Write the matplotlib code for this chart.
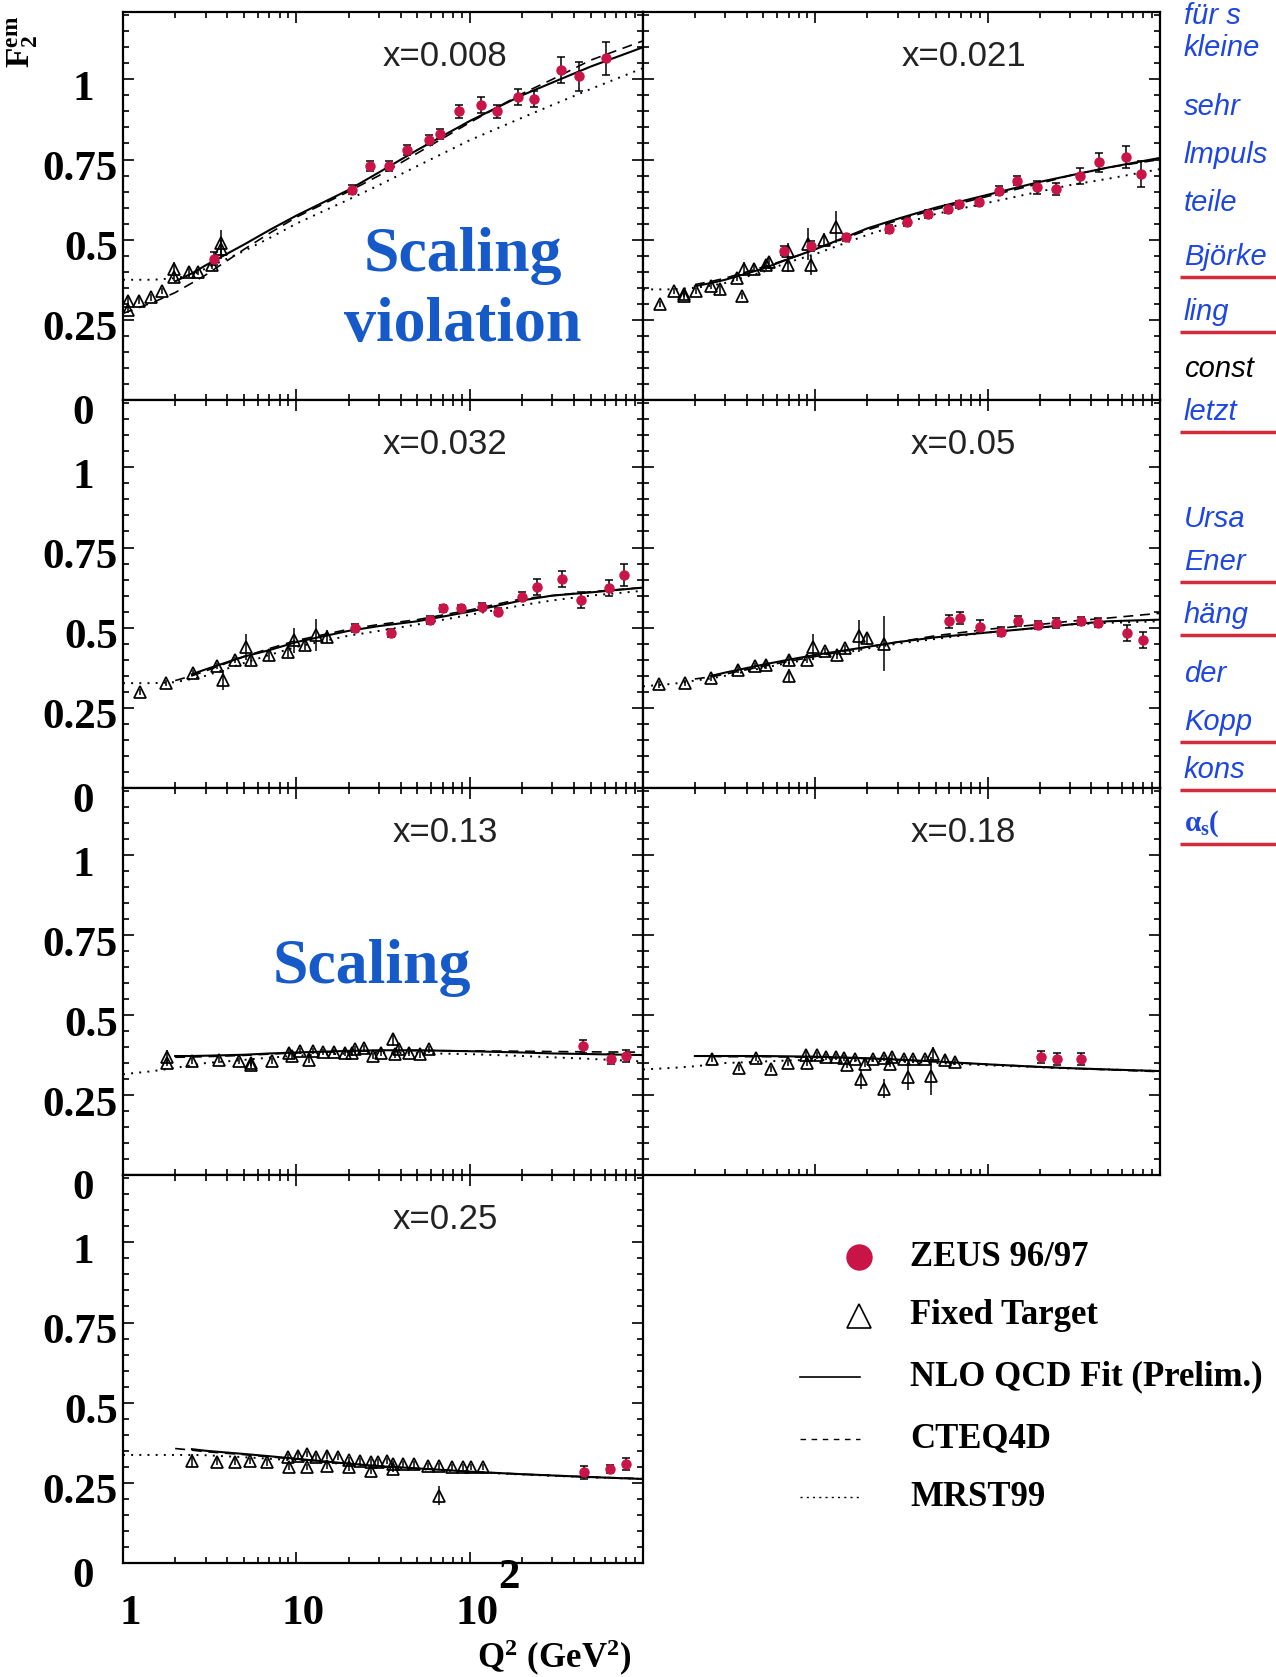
import numpy as np
import matplotlib
matplotlib.use("Agg")
import matplotlib.pyplot as plt
from matplotlib.lines import Line2D
from matplotlib.ticker import FixedLocator, MultipleLocator, NullFormatter

plt.rcParams["mathtext.fontset"] = "custom"
plt.rcParams["mathtext.rm"] = "Liberation Serif:bold"
plt.rcParams["mathtext.bf"] = "Liberation Serif:bold"
plt.rcParams["mathtext.it"] = "Liberation Serif:bold"

W, H = 1276, 1677
nan = np.nan
RED = "#c81446"
BLUE = "#155ac8"
INK = "#1e46e0"
SERIF = "Liberation Serif"

# ---- data ----------------------------------------------------------------
# Q^2 grid on which the three fit curves were read
CURVE_Q2 = [1, 1.5, 2, 2.5, 3, 5, 7, 10, 20, 30, 50, 100, 200, 300, 500, 1000]

# x = 0.008
ZEUS_Q2_0008 = [3.35, 20.9, 26.5, 34.4, 43.6, 58, 67, 87, 116, 143, 190, 236, 338, 430, 610]
ZEUS_F2_0008 = [0.44, 0.656, 0.73, 0.73, 0.78, 0.81, 0.83, 0.90, 0.92, 0.90, 0.945, 0.94, 1.03, 1.01, 1.065]
ZEUS_ER_0008 = [0.02, 0.015, 0.015, 0.015, 0.015, 0.015, 0.015, 0.02, 0.025, 0.02, 0.025, 0.025, 0.04, 0.045, 0.05]
FT_Q2_0008 = [1.07, 1.07, 1.23, 1.46, 1.68, 1.98, 1.98, 2.4, 2.7, 3.27, 3.7, 3.7]
FT_F2_0008 = [0.28, 0.31, 0.31, 0.32, 0.34, 0.385, 0.41, 0.40, 0.40, 0.42, 0.47, 0.49]
FT_ER_0008 = [0.01, 0.01, 0.01, 0.01, 0.01, 0.015, 0.02, 0.015, 0.01, 0.01, 0.03, 0.04]
NLO_0008 = [nan, nan, 0.37, 0.395, 0.42, 0.485, 0.53, 0.575, 0.655, 0.71, 0.78, 0.87, 0.95, 0.99, 1.04, 1.10]
CTEQ_0008 = [0.27, 0.305, 0.335, 0.365, 0.39, 0.47, 0.52, 0.57, 0.65, 0.70, 0.77, 0.865, 0.955, 1.0, 1.06, 1.12]
MRST_0008 = [0.375, 0.375, 0.38, 0.39, 0.41, 0.465, 0.505, 0.55, 0.625, 0.67, 0.73, 0.81, 0.88, 0.92, 0.97, 1.035]

# x = 0.021
ZEUS_Q2_0021 = [6.6, 9.5, 15.1, 26.7, 34.2, 45, 59, 68, 89, 117, 147, 194, 249, 343, 441, 636, 780]
ZEUS_F2_0021 = [0.466, 0.48, 0.507, 0.533, 0.554, 0.58, 0.596, 0.61, 0.616, 0.653, 0.684, 0.663, 0.658, 0.70, 0.741, 0.757, 0.705]
ZEUS_ER_0021 = [0.015, 0.015, 0.012, 0.012, 0.012, 0.012, 0.012, 0.012, 0.012, 0.015, 0.015, 0.02, 0.02, 0.025, 0.03, 0.035, 0.04]
FT_Q2_0021 = [1.26, 1.51, 1.73, 1.73, 2.03, 2.49, 2.79, 3.5, 3.75, 3.84, 4.4, 5.2, 5.4, 6.9, 6.9, 9.1, 9.5, 11.2, 13.1]
FT_F2_0021 = [0.30, 0.34, 0.33, 0.325, 0.34, 0.357, 0.346, 0.38, 0.325, 0.41, 0.41, 0.42, 0.43, 0.466, 0.42, 0.486, 0.42, 0.50, 0.54]
FT_ER_0021 = [0.01, 0.01, 0.01, 0.01, 0.01, 0.01, 0.015, 0.01, 0.01, 0.02, 0.01, 0.015, 0.02, 0.025, 0.02, 0.05, 0.03, 0.02, 0.05]
NLO_0021 = [nan, nan, 0.355, 0.365, 0.375, 0.41, 0.44, 0.47, 0.535, 0.565, 0.60, 0.64, 0.68, 0.70, 0.725, 0.755]
CTEQ_0021 = [nan, nan, 0.36, 0.37, 0.38, 0.415, 0.44, 0.47, 0.53, 0.56, 0.595, 0.635, 0.675, 0.70, 0.725, 0.75]
MRST_0021 = [0.345, 0.345, 0.35, 0.357, 0.365, 0.40, 0.43, 0.455, 0.515, 0.545, 0.58, 0.615, 0.65, 0.67, 0.69, 0.72]

# x = 0.032
ZEUS_Q2_0032 = [21.9, 35.2, 59, 70, 89, 118, 146, 200, 245, 341, 440, 640, 775]
ZEUS_F2_0032 = [0.50, 0.483, 0.524, 0.56, 0.56, 0.566, 0.55, 0.597, 0.628, 0.651, 0.587, 0.623, 0.665]
ZEUS_ER_0032 = [0.012, 0.012, 0.012, 0.012, 0.012, 0.012, 0.012, 0.015, 0.025, 0.025, 0.025, 0.025, 0.035]
FT_Q2_0032 = [1.26, 1.76, 2.52, 3.5, 3.77, 4.45, 5.13, 5.5, 7.0, 8.9, 9.7, 11.2, 13, 15]
FT_F2_0032 = [0.30, 0.327, 0.358, 0.38, 0.337, 0.40, 0.44, 0.40, 0.415, 0.425, 0.46, 0.446, 0.478, 0.472]
FT_ER_0032 = [0.01, 0.01, 0.01, 0.01, 0.03, 0.01, 0.04, 0.015, 0.02, 0.015, 0.04, 0.015, 0.05, 0.02]
NLO_0032 = [nan, nan, nan, 0.355, 0.37, 0.41, 0.43, 0.455, 0.49, 0.505, 0.52, 0.55, 0.585, 0.60, 0.61, 0.625]
CTEQ_0032 = [nan, nan, 0.335, 0.35, 0.365, 0.41, 0.435, 0.46, 0.495, 0.51, 0.525, 0.555, 0.59, 0.60, 0.612, 0.625]
MRST_0032 = [0.327, 0.327, 0.33, 0.34, 0.35, 0.39, 0.415, 0.44, 0.475, 0.49, 0.51, 0.54, 0.57, 0.585, 0.60, 0.615]

# x = 0.05
ZEUS_Q2_005 = [60, 69, 90, 119, 150, 197, 249, 350, 437, 644, 794]
ZEUS_F2_005 = [0.52, 0.53, 0.503, 0.488, 0.52, 0.509, 0.514, 0.521, 0.516, 0.483, 0.462]
ZEUS_ER_005 = [0.02, 0.02, 0.02, 0.015, 0.015, 0.012, 0.015, 0.012, 0.015, 0.025, 0.025]
FT_Q2_005 = [1.24, 1.75, 2.47, 3.55, 4.46, 5.2, 7.0, 7.0, 9.0, 9.7, 11.4, 13.3, 14.9, 18, 20, 24.9]
FT_F2_005 = [0.323, 0.328, 0.343, 0.369, 0.38, 0.385, 0.40, 0.35, 0.40, 0.44, 0.426, 0.416, 0.436, 0.475, 0.467, 0.45]
FT_ER_005 = [0.01, 0.01, 0.01, 0.01, 0.01, 0.015, 0.015, 0.02, 0.01, 0.04, 0.01, 0.015, 0.01, 0.05, 0.02, 0.085]
NLO_005 = [nan, nan, nan, 0.35, 0.36, 0.385, 0.40, 0.415, 0.44, 0.455, 0.47, 0.485, 0.50, 0.51, 0.52, 0.525]
CTEQ_005 = [nan, nan, 0.34, 0.347, 0.355, 0.38, 0.395, 0.41, 0.44, 0.455, 0.475, 0.495, 0.51, 0.52, 0.53, 0.545]
MRST_005 = [0.317, 0.325, 0.335, 0.342, 0.35, 0.375, 0.39, 0.405, 0.435, 0.45, 0.465, 0.485, 0.50, 0.51, 0.515, 0.52]

# x = 0.13
ZEUS_Q2_013 = [450, 655, 800]
ZEUS_F2_013 = [0.403, 0.362, 0.372]
ZEUS_ER_013 = [0.02, 0.015, 0.02]
FT_Q2_013 = [1.8, 1.8, 2.5, 3.6, 4.66, 5.5, 5.5, 7.2, 9.1, 9.5, 10.5, 11.8, 12.4, 14.3, 16.4, 19,
             20.9, 21.9, 24.6, 27.8, 30.6, 36, 37, 38.9, 44.8, 51.5, 58]
FT_F2_013 = [0.37, 0.35, 0.357, 0.36, 0.357, 0.35, 0.345, 0.357, 0.383, 0.372, 0.388, 0.36, 0.388, 0.385, 0.385, 0.383,
             0.383, 0.393, 0.398, 0.372, 0.383, 0.424, 0.377, 0.393, 0.383, 0.377, 0.393]
FT_ER_013 = [0.02, 0.01, 0.01, 0.01, 0.01, 0.01, 0.01, 0.01, 0.01, 0.01, 0.01, 0.01, 0.01, 0.01, 0.01, 0.01,
             0.01, 0.01, 0.01, 0.01, 0.01, 0.02, 0.01, 0.01, 0.01, 0.01, 0.01]
NLO_013 = [nan, nan, 0.372, 0.372, 0.373, 0.376, 0.38, 0.383, 0.388, 0.39, 0.39, 0.387, 0.383, 0.38, 0.378, 0.375]
CTEQ_013 = [nan, nan, 0.368, 0.369, 0.37, 0.374, 0.378, 0.382, 0.386, 0.388, 0.389, 0.388, 0.387, 0.386, 0.385, 0.384]
MRST_013 = [0.315, 0.325, 0.335, 0.343, 0.35, 0.36, 0.367, 0.373, 0.38, 0.382, 0.381, 0.378, 0.372, 0.368, 0.363, 0.355]

# x = 0.18
ZEUS_Q2_018 = [203, 254, 350]
ZEUS_F2_018 = [0.369, 0.363, 0.363]
ZEUS_ER_018 = [0.02, 0.02, 0.02]
FT_Q2_018 = [2.5, 3.6, 4.5, 5.5, 6.9, 8.8, 8.9, 10.2, 11.5, 13.1, 14.7, 15.3, 16.9, 18.5, 19.4, 21.7, 24.9, 24.9,
             27.3, 28, 32.7, 34.3, 36.7, 43.1, 47.2, 48.3, 56.6, 65]
FT_F2_018 = [0.363, 0.334, 0.366, 0.332, 0.35, 0.374, 0.35, 0.374, 0.369, 0.369, 0.366, 0.343, 0.363, 0.30, 0.348,
             0.363, 0.27, 0.366, 0.348, 0.369, 0.363, 0.306, 0.363, 0.363, 0.31, 0.379, 0.361, 0.353]
FT_ER_018 = [0.01, 0.01, 0.01, 0.01, 0.01, 0.015, 0.01, 0.01, 0.01, 0.01, 0.01, 0.01, 0.01, 0.03, 0.01, 0.01, 0.03,
             0.01, 0.01, 0.01, 0.01, 0.04, 0.01, 0.01, 0.06, 0.02, 0.01, 0.01]
NLO_018 = [nan, nan, 0.372, 0.372, 0.372, 0.372, 0.371, 0.37, 0.365, 0.361, 0.355, 0.346, 0.338, 0.334, 0.33, 0.325]
CTEQ_018 = [nan, nan, 0.372, 0.371, 0.37, 0.37, 0.369, 0.368, 0.364, 0.36, 0.354, 0.346, 0.338, 0.334, 0.329, 0.323]
MRST_018 = [0.33, 0.335, 0.34, 0.345, 0.35, 0.355, 0.358, 0.36, 0.358, 0.355, 0.35, 0.343, 0.337, 0.333, 0.33, 0.325]

# x = 0.25
ZEUS_Q2_025 = [459, 645, 800]
ZEUS_F2_025 = [0.283, 0.293, 0.309]
ZEUS_ER_025 = [0.02, 0.012, 0.02]
FT_Q2_025 = [2.5, 3.5, 4.45, 5.4, 6.8, 8.9, 9.1, 10.2, 11.5, 11.5, 13, 15.1, 15.1, 17.5, 20.1, 20.1, 23.2, 26.8,
             26.8, 29.5, 33.4, 36, 36, 41.5, 47.6, 57.4, 66.5, 66.5, 79, 91, 102, 120]
FT_F2_025 = [0.319, 0.316, 0.316, 0.319, 0.314, 0.33, 0.30, 0.335, 0.34, 0.30, 0.33, 0.335, 0.303, 0.33, 0.322,
             0.298, 0.319, 0.314, 0.288, 0.314, 0.319, 0.309, 0.293, 0.309, 0.309, 0.303, 0.21, 0.303, 0.30, 0.30,
             0.30, 0.30]
FT_ER_025 = [0.02] + [0.01] * 25 + [0.03] + [0.01] * 5
NLO_025 = [nan, nan, nan, 0.355, 0.35, 0.34, 0.333, 0.325, 0.31, 0.302, 0.295, 0.285, 0.277, 0.273, 0.268, 0.262]
CTEQ_025 = [nan, nan, 0.357, 0.352, 0.347, 0.338, 0.331, 0.324, 0.31, 0.302, 0.295, 0.285, 0.277, 0.273, 0.268, 0.263]
MRST_025 = [0.337, 0.337, 0.337, 0.337, 0.336, 0.33, 0.325, 0.32, 0.308, 0.3, 0.293, 0.284, 0.276, 0.272, 0.267, 0.262]

Y_TICKS = [0, 0.25, 0.5, 0.75, 1.0]
Y_LABELS = ["0", "0.25", "0.5", "0.75", "1"]
X_TICKS = [1, 10, 100]
X_LABELS = ["1", "10", "10"]

LEGEND_LABELS = ["ZEUS 96/97", "Fixed Target", "NLO QCD Fit (Prelim.)", "CTEQ4D", "MRST99"]

NOTES = ["für s", "kleine", "sehr", "lmpuls", "teile", "Björke", "ling", "const", "letzt",
         "Ursa", "Ener", "häng", "der", "Kopp", "kons", r"$\alpha_s($"]
NOTES_Y = [16, 48, 107, 155, 203, 257, 312, 369, 412, 519, 562, 615, 674, 722, 770, 824]
UNDERLINED = ["Björke", "ling", "letzt", "Ener", "häng", "Kopp", "kons", r"$\alpha_s($"]

PANELS = [
    dict(label="x=0.008", row=0, col=0, zq=ZEUS_Q2_0008, zf=ZEUS_F2_0008, ze=ZEUS_ER_0008,
         fq=FT_Q2_0008, ff=FT_F2_0008, fe=FT_ER_0008, nlo=NLO_0008, cteq=CTEQ_0008, mrst=MRST_0008),
    dict(label="x=0.021", row=0, col=1, zq=ZEUS_Q2_0021, zf=ZEUS_F2_0021, ze=ZEUS_ER_0021,
         fq=FT_Q2_0021, ff=FT_F2_0021, fe=FT_ER_0021, nlo=NLO_0021, cteq=CTEQ_0021, mrst=MRST_0021),
    dict(label="x=0.032", row=1, col=0, zq=ZEUS_Q2_0032, zf=ZEUS_F2_0032, ze=ZEUS_ER_0032,
         fq=FT_Q2_0032, ff=FT_F2_0032, fe=FT_ER_0032, nlo=NLO_0032, cteq=CTEQ_0032, mrst=MRST_0032),
    dict(label="x=0.05", row=1, col=1, zq=ZEUS_Q2_005, zf=ZEUS_F2_005, ze=ZEUS_ER_005,
         fq=FT_Q2_005, ff=FT_F2_005, fe=FT_ER_005, nlo=NLO_005, cteq=CTEQ_005, mrst=MRST_005),
    dict(label="x=0.13", row=2, col=0, zq=ZEUS_Q2_013, zf=ZEUS_F2_013, ze=ZEUS_ER_013,
         fq=FT_Q2_013, ff=FT_F2_013, fe=FT_ER_013, nlo=NLO_013, cteq=CTEQ_013, mrst=MRST_013),
    dict(label="x=0.18", row=2, col=1, zq=ZEUS_Q2_018, zf=ZEUS_F2_018, ze=ZEUS_ER_018,
         fq=FT_Q2_018, ff=FT_F2_018, fe=FT_ER_018, nlo=NLO_018, cteq=CTEQ_018, mrst=MRST_018),
    dict(label="x=0.25", row=3, col=0, zq=ZEUS_Q2_025, zf=ZEUS_F2_025, ze=ZEUS_ER_025,
         fq=FT_Q2_025, ff=FT_F2_025, fe=FT_ER_025, nlo=NLO_025, cteq=CTEQ_025, mrst=MRST_025),
]

# ---- layout (pixels of the 1276x1677 page) -------------------------------
COL_X = [(123, 643), (643, 1160)]
ROW_Y = [(12, 400), (400, 788), (788, 1175), (1175, 1563)]

NLO_STYLE = dict(color="black", lw=1.5, ls="-")
CTEQ_STYLE = dict(color="black", lw=1.2, ls=(0, (6, 4)))
MRST_STYLE = dict(color="black", lw=1.4, ls=(0, (1, 3.2)))


def rect(col, row):
    x0, x1 = COL_X[col]
    y0, y1 = ROW_Y[row]
    return [x0 / W, 1 - y1 / H, (x1 - x0) / W, (y1 - y0) / H]


fig = plt.figure(figsize=(W / 100, H / 100), dpi=100)

for p in PANELS:
    ax = fig.add_axes(rect(p["col"], p["row"]))
    ax.set_xscale("log")
    ax.set_xlim(1, 1000)
    ax.set_ylim(0, 1.21)

    ax.plot(CURVE_Q2, p["nlo"], zorder=2, **NLO_STYLE)
    ax.plot(CURVE_Q2, p["cteq"], zorder=2, **CTEQ_STYLE)
    ax.plot(CURVE_Q2, p["mrst"], zorder=2, **MRST_STYLE)

    ax.errorbar(p["fq"], p["ff"], yerr=p["fe"], fmt="^", ms=8.5, mfc="none", mec="black", mew=1.25,
                ecolor="black", elinewidth=1.1, capsize=0, zorder=3)
    ax.errorbar(p["zq"], p["zf"], yerr=p["ze"], fmt="o", ms=6.5, color=RED, mec=RED,
                ecolor="black", elinewidth=1.1, capsize=3, capthick=1.1, zorder=4)

    ax.xaxis.set_major_locator(FixedLocator([1, 10, 100, 1000]))
    ax.xaxis.set_minor_locator(FixedLocator([m * d for d in (1, 10, 100) for m in range(2, 10)]))
    ax.xaxis.set_minor_formatter(NullFormatter())
    ax.yaxis.set_major_locator(FixedLocator(Y_TICKS))
    ax.yaxis.set_minor_locator(MultipleLocator(0.05))
    ax.tick_params(which="both", direction="in", top=True, right=True, width=1.2,
                   labelbottom=False, labelleft=False)
    ax.tick_params(which="major", length=8)
    ax.tick_params(which="minor", length=4)
    for s in ax.spines.values():
        s.set_linewidth(1.6)

    ax.text(0.62, 0.885, p["label"], transform=ax.transAxes, ha="center", va="center",
            fontsize=25, family="Liberation Sans", color="#222222")

    if p["col"] == 0:
        ytr = ax.get_yaxis_transform()
        for v, lab in zip(Y_TICKS, Y_LABELS):
            if len(lab) == 1:
                ax.text(-0.077, v - (0.045 if v == 0 else 0.033), lab, transform=ytr, ha="center",
                        va="center", fontsize=31, fontweight="bold", family=SERIF)
            else:
                ax.text(-0.01, v - 0.033, lab, transform=ytr, ha="right", va="center",
                        fontsize=31, fontweight="bold", family=SERIF)

    if p["row"] == 3:
        xtr = ax.get_xaxis_transform()
        for v, lab in zip(X_TICKS, X_LABELS):
            ax.text(v * 1.1, -0.158, lab, transform=xtr, ha="center", va="baseline",
                    fontsize=31, fontweight="bold", family=SERIF)
        ax.text(168, -0.038, "2", transform=xtr, ha="center", va="center",
                fontsize=31, fontweight="bold", family=SERIF)

    if p["label"] == "x=0.008":
        for txt, yy in (("Scaling", 0.37), ("violation", 0.19)):
            ax.text(0.654, yy, txt, transform=ax.transAxes, ha="center", va="center",
                    fontsize=46, fontweight="bold", family=SERIF, color=BLUE)
    if p["label"] == "x=0.13":
        ax.text(0.479, 0.535, "Scaling", transform=ax.transAxes, ha="center", va="center",
                fontsize=46, fontweight="bold", family=SERIF, color=BLUE)

# axis titles
fig.text(23 / W, 1 - 42 / H, r"$\mathbf{F_2^{em}}$", rotation=90, ha="center", va="center", fontsize=24)
fig.text(554 / W, 1 - 1668 / H, r"$\mathbf{Q^2\ (GeV^2)}$", ha="center", va="baseline", fontsize=25)

# overlay in page pixels for the legend and the handwritten notes
ov = fig.add_axes([0, 0, 1, 1])
ov.set_xlim(0, W)
ov.set_ylim(H, 0)
ov.axis("off")
ov.patch.set_alpha(0)

leg_y = [1257, 1316, 1377, 1439, 1497]
handles = [
    Line2D([859], [leg_y[0]], marker="o", ms=18, color=RED, ls="none"),
    Line2D([859], [leg_y[1]], marker="^", ms=17, mfc="none", mec="black", mew=1.2, ls="none"),
    Line2D([800, 860], [leg_y[2]] * 2, lw=1.2, color="black", ls="-"),
    Line2D([800, 860], [leg_y[3]] * 2, lw=1.0, color="black", ls=(0, (4, 4))),
    Line2D([800, 860], [leg_y[4]] * 2, lw=1.0, color="black", ls=(0, (1.5, 3))),
]
for h, lab, yy in zip(handles, LEGEND_LABELS, leg_y):
    ov.add_line(h)
    ov.text(910, yy, lab, ha="left", va="center", fontsize=25, fontweight="bold", family=SERIF)

for txt, yy in zip(NOTES, NOTES_Y):
    col = "black" if txt == "const" else INK
    ov.text(1184, yy, txt, ha="left", va="center", fontsize=21, style="italic",
            family="Liberation Sans", color=col)
    if txt in UNDERLINED:
        ov.plot([1180, 1276], [yy + 20, yy + 20], color="#d42a3a", lw=2.5, solid_capstyle="butt")

fig.savefig("out.png", dpi=100)
